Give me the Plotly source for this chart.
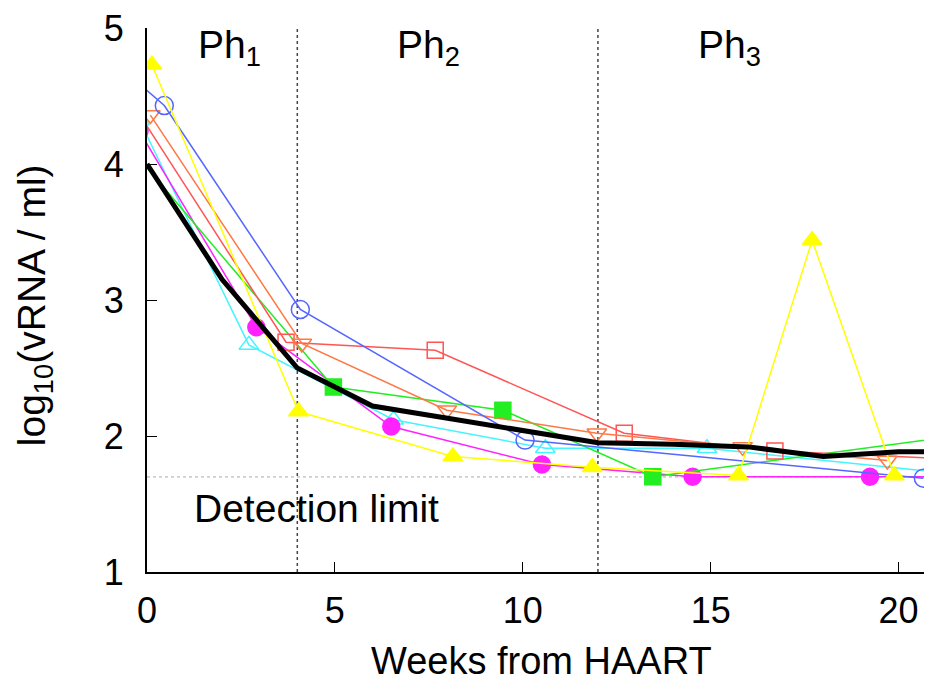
import plotly.graph_objects as go

# ---- data (weeks from HAART, log10 vRNA/ml) ----
yellow_x = [0.13, 4.03, 8.14, 11.85, 15.74, 17.7, 19.89]
yellow_y = [4.73, 2.18, 1.85, 1.77, 1.71, 3.44, 1.71]

blue_x = [-0.5, 0.46, 4.08, 10.06, 20.66]
blue_y = [4.66, 4.43, 2.93, 1.97, 1.69]

orange_x = [0.09, 4.12, 7.98, 11.97, 15.85, 19.70]
orange_y = [4.36, 2.68, 2.19, 2.02, 1.92, 1.82]

red_x = [-0.4, 3.70, 7.67, 12.70, 16.71, 21.5]
red_y = [4.45, 2.69, 2.63, 2.02, 1.89, 1.83]

green_x = [-0.3, 4.96, 9.47, 13.46, 21.5]
green_y = [4.07, 2.36, 2.19, 1.70, 2.00]

cyan_x = [-0.2, 2.71, 6.56, 10.60, 14.90, 21.5]
cyan_y = [4.32, 2.67, 2.12, 1.91, 1.91, 1.72]

magenta_x = [-0.2, 2.91, 6.50, 10.51, 14.52, 19.24, 21.5]
magenta_y = [4.24, 2.80, 2.07, 1.79, 1.70, 1.70, 1.70]

mean_x = [0, 2, 4, 6, 8, 10, 12, 14, 16, 18, 20, 22]
mean_y = [4.00, 3.15, 2.50, 2.22, 2.13, 2.04, 1.95, 1.94, 1.92, 1.85, 1.885, 1.885]

detection_limit = 1.699
phase_bounds = [4, 12]
phase_labels = ["Ph<sub>1</sub>", "Ph<sub>2</sub>", "Ph<sub>3</sub>"]
phase_label_x = [2.2, 7.5, 15.5]

x_ticks = [0, 5, 10, 15, 20]
y_ticks = [1, 2, 3, 4, 5]

FONT = "Liberation Sans, Arial, sans-serif"
FS_TICK = 36
FS_TEXT = 39

fig = go.Figure()

series = [
    (cyan_x, cyan_y, "#44f4ff", "triangle-up-open", 17),
    (magenta_x, magenta_y, "#ff22ff", "circle", 17),
    (green_x, green_y, "#22ee22", "square", 16),
    (red_x, red_y, "#ff5555", "square-open", 16),
    (orange_x, orange_y, "#ff7744", "triangle-down-open", 17),
    (blue_x, blue_y, "#5566ff", "circle-open", 18),
    (yellow_x, yellow_y, "#ffff00", "triangle-up", 17),
]
for xs, ys, col, sym, sz in series:
    fig.add_trace(go.Scatter(
        x=xs, y=ys, mode="lines+markers",
        line=dict(color=col, width=1.5),
        marker=dict(symbol=sym, size=sz, color=col,
                    line=dict(color=col, width=1.5)),
        cliponaxis=True, showlegend=False,
    ))

fig.add_trace(go.Scatter(
    x=mean_x, y=mean_y, mode="lines",
    line=dict(color="black", width=5),
    showlegend=False,
))

# detection limit line
fig.add_shape(type="line", xref="x", yref="y", x0=0, x1=21,
              y0=detection_limit, y1=detection_limit,
              line=dict(color="#aaaaaa", width=1, dash="dot"), layer="below")
# phase boundaries
for b in phase_bounds:
    fig.add_shape(type="line", xref="x", yref="y", x0=b, x1=b, y0=1, y1=5,
                  line=dict(color="#444444", width=1.5, dash="dot"), layer="below")

for lab, lx in zip(phase_labels, phase_label_x):
    fig.add_annotation(x=lx, y=4.86, text=lab, showarrow=False,
                       font=dict(family=FONT, size=FS_TEXT, color="black"))

fig.add_annotation(x=4.5, y=1.47, text="Detection limit", showarrow=False,
                   font=dict(family=FONT, size=FS_TEXT, color="black"))

# axis titles as annotations (paper coords)
fig.add_annotation(xref="paper", yref="paper", x=0.5025, y=-0.164,
                   xanchor="center", yanchor="middle", showarrow=False,
                   text="Weeks from HAART",
                   font=dict(family=FONT, size=38, color="black"))
fig.add_annotation(xref="paper", yref="paper", x=-0.143, y=0.49,
                   xanchor="center", yanchor="middle", showarrow=False,
                   textangle=-90, text="log<sub>10</sub>(vRNA / ml)",
                   font=dict(family=FONT, size=FS_TEXT, color="black"))

# page body has an 8px margin, so the figure is sized to fit the window
fig.update_layout(
    width=924, height=676,
    margin=dict(l=139, r=0, t=20, b=112, autoexpand=False),
    plot_bgcolor="white", paper_bgcolor="white",
    font=dict(family=FONT, size=FS_TICK, color="black"),
    xaxis=dict(range=[0, 20.89], tickvals=x_ticks, ticks="inside", ticklen=10,
               tickcolor="black", showline=True, linecolor="black", linewidth=2,
               showgrid=False, zeroline=False, ticklabelstandoff=6,
               ticklabeloverflow="allow", automargin=False),
    yaxis=dict(range=[1, 5], tickvals=y_ticks, ticks="inside", ticklen=10,
               tickcolor="black", showline=True, linecolor="black", linewidth=2,
               showgrid=False, zeroline=False, ticklabelstandoff=14,
               ticklabeloverflow="allow", automargin=False),
)

fig.write_html("out.html")
